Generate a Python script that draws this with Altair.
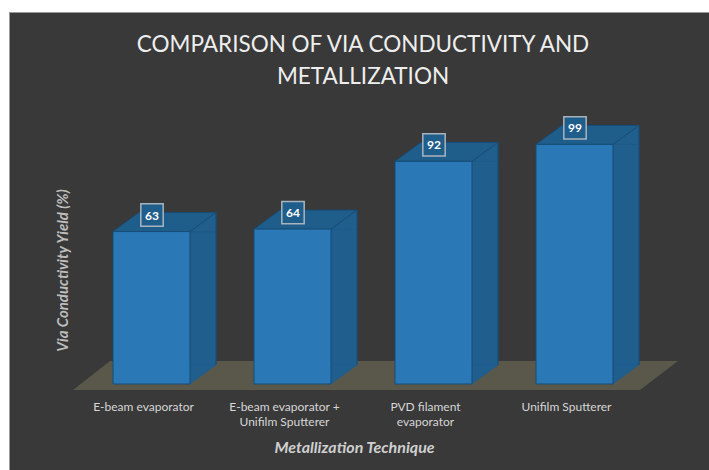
import altair as alt
import pandas as pd

categories = [
    "E-beam evaporator",
    "E-beam evaporator +\nUnifilm Sputterer",
    "PVD filament\nevaporator",
    "Unifilm Sputterer",
]
values = [63, 64, 92, 99]
title_lines = ["COMPARISON OF VIA CONDUCTIVITY AND", "METALLIZATION"]
y_title = "Via Conductivity Yield (%)"
x_title = "Metallization Technique"

df = pd.DataFrame({"cat": categories, "val": values})
one = pd.DataFrame({"k": [0]})

W, H = 564, 242
FONT = "Lato"
BG = "#393939"
FRONT = "#2a79b6"
SIDE = "#1f5e8d"
TOP = "#1f5d8b"
EDGE = "#174d78"
FLOOR = "#59584a"

xs = alt.Scale(paddingInner=0.454, paddingOuter=0.227)
ys = alt.Scale(domain=[0, 100], nice=False)

X = alt.X(
    "cat:N",
    sort=categories,
    scale=xs,
    axis=alt.Axis(
        title=x_title,
        labelAngle=0,
        labelExpr="split(datum.label, '\\n')",
        labelFont=FONT,
        labelFontSize=12,
        labelColor="#d6d6d6",
        labelPadding=17,
        labelOffset=-8,
        labelLineHeight=15.5,
        labelLimit=200,
        ticks=False,
        domain=False,
        grid=False,
        titleFont=FONT,
        titleFontSize=16,
        titleFontWeight="bold",
        titleFontStyle="italic",
        titleColor="#cfcfcf",
        titleX=273,
        titleY=68,
        titleBaseline="alphabetic",
        zindex=1,
    ),
)
Y = alt.Y(
    "val:Q",
    scale=ys,
    axis=alt.Axis(
        title=y_title,
        labels=False,
        ticks=False,
        domain=False,
        grid=False,
        titleFont=FONT,
        titleFontSize=15,
        titleFontWeight="bold",
        titleFontStyle="italic",
        titleColor="#bdbdbd",
        titleX=-11,
        titleY=128,
        titleAngle=-90,
        titleBaseline="bottom",
        zindex=1,
    ),
)

# custom symbol paths (size=4 -> 1 unit = 1 px)
TOP_FACE = "M-38.5,0L38.5,0L64.5,-19L-12.5,-19Z"
SIDE_TOP = "M38.5,0L64.5,-19L64.5,0Z"
SIDE_BOT = "M38.5,-19L38.5,0L64.5,-19Z"
FLOOR_SHAPE = "M-290,6L277,6L315,-23L-253,-23Z"

strip_top = alt.Chart(one).mark_rect(color="#ffffff").encode(
    x=alt.value(-81), x2=alt.value(628), y=alt.value(-142), y2=alt.value(-130)
)
strip_left = alt.Chart(one).mark_rect(color="#ffffff").encode(
    x=alt.value(-81), x2=alt.value(-72), y=alt.value(-142), y2=alt.value(328)
)
border = alt.Chart(one).mark_rule(color="#9a9a9a", strokeWidth=1).encode(
    x=alt.value(-72), x2=alt.value(628), y=alt.value(-129.5)
)
border_l = alt.Chart(one).mark_rule(color="#9a9a9a", strokeWidth=1).encode(
    x=alt.value(-71.5), y=alt.value(-130), y2=alt.value(328)
)

title = alt.Chart(one).mark_text(
    font=FONT, fontSize=22.5, color="#eeeeee", align="center", baseline="alphabetic",
    lineHeight=32
).encode(x=alt.value(282), y=alt.value(-90), text=alt.value(title_lines))

floor = alt.Chart(one).mark_point(
    shape=FLOOR_SHAPE, size=4, filled=True, color=FLOOR, opacity=1, strokeWidth=0
).encode(x=alt.value(282), y=alt.value(H))

side_rect = alt.Chart(df).mark_bar(
    width=26, xOffset=51.5, y2Offset=-19, color=SIDE, stroke=SIDE, strokeWidth=0.5
).encode(x=X, y=Y, y2=alt.datum(0))

side_top = alt.Chart(df).mark_point(
    shape=SIDE_TOP, size=4, filled=True, color=SIDE, opacity=1, stroke=SIDE, strokeWidth=0.5
).encode(x=X, y=Y)

side_bot = alt.Chart(df).mark_point(
    shape=SIDE_BOT, size=4, filled=True, color=SIDE, opacity=1, stroke=SIDE, strokeWidth=0.5
).encode(x=X, y=alt.value(H))

side_edge = alt.Chart(df).mark_rule(
    xOffset=64.5, yOffset=-19, y2Offset=-19, color=EDGE, strokeWidth=1
).encode(x=X, y=Y, y2=alt.datum(0))

back_edge = alt.Chart(df).mark_rule(
    xOffset=-12.5, yOffset=-19, y2Offset=-19, color="#2268a0", strokeWidth=1, opacity=0.8
).encode(x=X, y=Y, y2=alt.datum(0))

top_face = alt.Chart(df).mark_point(
    shape=TOP_FACE, size=4, filled=True, fill=TOP, opacity=1, stroke=EDGE, strokeWidth=1
).encode(x=X, y=Y)

front = alt.Chart(df).mark_bar(color=FRONT, stroke=EDGE, strokeWidth=1).encode(x=X, y=Y)

label_box = alt.Chart(df).mark_square(
    size=500, filled=True, fill="#1f5d8b", stroke="#aab4be", strokeWidth=1.5,
    opacity=1, xOffset=0.5, yOffset=-16.5
).encode(x=X, y=Y)

label_text = alt.Chart(df).mark_text(
    font=FONT, fontSize=12, fontWeight="bold", color="#ffffff",
    align="center", baseline="middle", xOffset=0.5, yOffset=-16
).encode(x=X, y=Y, text=alt.Text("val:Q"))

chart = alt.layer(
    strip_top, strip_left, border, border_l, title, floor, side_rect, side_top, side_bot,
    side_edge, back_edge, top_face, front, label_box, label_text
).properties(
    width=W,
    height=H,
    background=BG,
    padding={"left": 81, "top": 142, "right": 64, "bottom": 86},
    autosize=alt.AutoSizeParams(type="none"),
).configure_view(stroke=None)

chart.save("out.html", embed_options={"renderer": "svg", "actions": False})
